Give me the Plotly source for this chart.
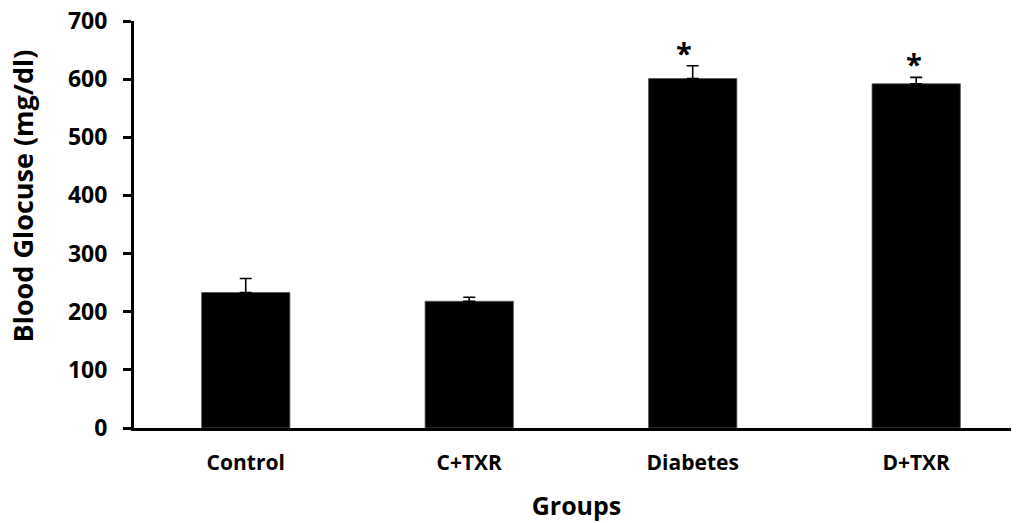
import plotly.graph_objects as go

groups = ["Control", "C+TXR", "Diabetes", "D+TXR"]
means = [233, 218, 601, 592]
sem = [24, 7, 22, 11]
sig = ["", "", "*", "*"]
sig_xshift = [0, 0, -9, -2]

y_ticks = [0, 100, 200, 300, 400, 500, 600, 700]

FONT = "Open Sans"

fig = go.Figure()
fig.add_trace(go.Bar(
    x=groups,
    y=means,
    marker=dict(color="black", line=dict(color="#555555", width=0.8)),
    error_y=dict(type="data", symmetric=False, array=sem,
                 arrayminus=[0] * len(sem), color="black",
                 thickness=1.6, width=6),
    showlegend=False,
))

for g, m, s, t, dx in zip(groups, means, sem, sig, sig_xshift):
    if t:
        fig.add_annotation(x=g, y=m + s, text=f"<b>{t}</b>", showarrow=False,
                           yanchor="bottom", yshift=-8, xshift=dx,
                           font=dict(family=FONT, size=29, color="black"))

# y-axis title placed as in the reference (offset above the axis middle)
fig.add_annotation(text="<b>Blood Glocuse (mg/dl)</b>", textangle=-90,
                   xref="paper", yref="paper", x=0, y=0.5,
                   xanchor="center", yanchor="middle",
                   xshift=-112, yshift=28, showarrow=False,
                   font=dict(family=FONT, size=27, color="black"))

# page body has an 8px margin; margins compensate so the plot sits as in the reference
fig.update_layout(
    width=1019, height=523,
    margin=dict(l=126, r=8, t=13, b=103),
    paper_bgcolor="white", plot_bgcolor="white",
    bargap=0.605,
    font=dict(family=FONT, color="black"),
)

fig.update_xaxes(
    range=[-0.5, 3.46], automargin=False,
    showline=True, linecolor="black", linewidth=3,
    ticks="", showgrid=False, zeroline=False,
    tickfont=dict(family=FONT, size=21, color="black", weight="bold"),
    ticklabelstandoff=14,
    title=dict(text="Groups", standoff=23,
               font=dict(family=FONT, size=25, color="black", weight="bold")),
)
fig.update_yaxes(
    range=[0, 700], automargin=False,
    tickvals=y_ticks, ticktext=[str(v) for v in y_ticks],
    showline=True, linecolor="black", linewidth=3,
    ticks="outside", ticklen=8, tickwidth=3, tickcolor="black",
    showgrid=False, zeroline=False,
    tickfont=dict(family=FONT, size=23, color="black", weight="bold"),
    ticklabelstandoff=11, ticklabeloverflow="allow",
)

fig.write_html("out.html")
